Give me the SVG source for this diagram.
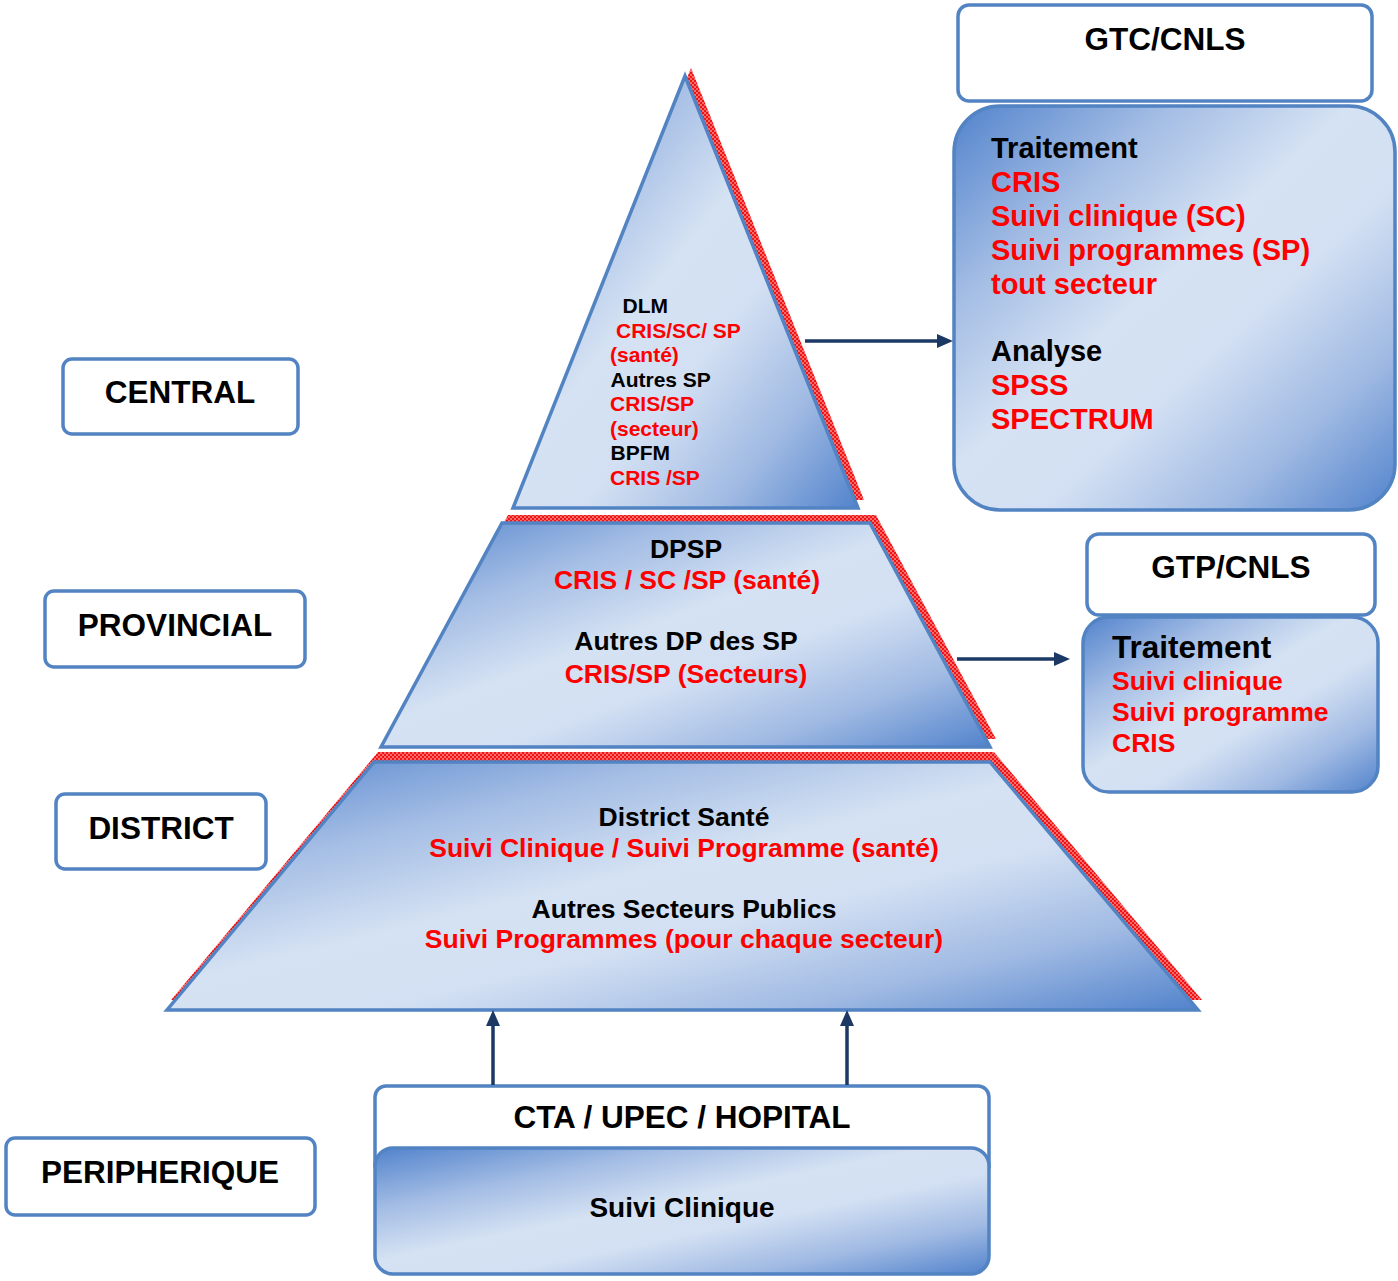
<svg xmlns="http://www.w3.org/2000/svg" width="1398" height="1281" viewBox="0 0 1398 1281">
  <defs>
    <!-- diagonal blue shading used by the pyramid and the info panels -->
    <linearGradient id="blueShade" x1="0" y1="0" x2="1" y2="1">
      <stop offset="0" stop-color="#5283cc"/>
      <stop offset="0.25" stop-color="#a5bee5"/>
      <stop offset="0.45" stop-color="#d5e2f3"/>
      <stop offset="0.6" stop-color="#d3e0f3"/>
      <stop offset="0.8" stop-color="#a0bae3"/>
      <stop offset="1" stop-color="#5283cc"/>
    </linearGradient>
    <!-- fine red dither for the layer shadows -->
    <pattern id="redDither" width="4" height="4" patternUnits="userSpaceOnUse">
      <rect width="4" height="4" fill="#ff6a6a"/>
      <rect width="2" height="2" fill="#ee1414"/>
      <rect x="2" y="2" width="2" height="2" fill="#ee1414"/>
    </pattern>
    <marker id="head" viewBox="0 0 16 14" refX="6" refY="7" markerWidth="16" markerHeight="14" markerUnits="userSpaceOnUse" orient="auto">
      <path d="M0,0 L16,7 L0,14 z" fill="#1b3964"/>
    </marker>
  </defs>
  <style>
    text { font-family: "Liberation Sans", Arial, sans-serif; font-weight: bold; }
    .blk { fill: #000000; }
    .red { fill: #ff0000; }
    .frame { fill: #ffffff; stroke: #5283c2; stroke-width: 3.5; }
    .panel { fill: url(#blueShade); stroke: #5283c2; stroke-width: 3.5; }
    .layer { fill: url(#blueShade); stroke: #5283c2; stroke-width: 3.5; stroke-linejoin: miter; }
    .shadow { fill: url(#redDither); stroke: none; }
    .link { stroke: #1b3964; stroke-width: 3.5; fill: none; marker-end: url(#head); }
    .lvl { font-size: 31.5px; text-anchor: middle; }
    .mid { text-anchor: middle; }
  </style>

  <rect width="1398" height="1281" fill="#ffffff"/>

  <!-- level labels on the left -->
  <g id="lbl-central">
    <rect class="frame" x="63" y="359" width="235" height="75" rx="9"/>
    <text class="lvl blk" x="180" y="403">CENTRAL</text>
  </g>
  <g id="lbl-provincial">
    <rect class="frame" x="45" y="591" width="260" height="76" rx="9"/>
    <text class="lvl blk" x="175" y="636">PROVINCIAL</text>
  </g>
  <g id="lbl-district">
    <rect class="frame" x="56" y="794" width="210" height="75" rx="9"/>
    <text class="lvl blk" x="161" y="839">DISTRICT</text>
  </g>
  <g id="lbl-peripherique">
    <rect class="frame" x="6" y="1138" width="309" height="77" rx="9"/>
    <text class="lvl blk" x="160" y="1183">PERIPHERIQUE</text>
  </g>

  <!-- pyramid: central level -->
  <g id="pyr-central">
    <polygon class="shadow" points="685,76 858,508 513,508" transform="translate(6,-8)"/>
    <polygon class="layer" points="685,76 858,508 513,508"/>
    <g font-size="21">
      <text class="blk" x="622.5" y="313">DLM</text>
      <text class="red" x="616" y="338">CRIS/SC/ SP</text>
      <text class="red" x="610" y="362">(santé)</text>
      <text class="blk" x="610.5" y="387">Autres SP</text>
      <text class="red" x="610" y="411">CRIS/SP</text>
      <text class="red" x="610" y="436">(secteur)</text>
      <text class="blk" x="610.5" y="460">BPFM</text>
      <text class="red" x="610" y="485">CRIS /SP</text>
    </g>
  </g>

  <!-- pyramid: provincial level -->
  <g id="pyr-provincial">
    <polygon class="shadow" points="502,523 870,523 990,747 381,747" transform="translate(6,-8)"/>
    <polygon class="layer" points="502,523 870,523 990,747 381,747"/>
    <g font-size="26.5">
      <text class="blk mid" x="686" y="558">DPSP</text>
      <text class="red mid" x="687" y="589">CRIS / SC /SP (santé)</text>
      <text class="blk mid" x="686" y="650">Autres DP des SP</text>
      <text class="red mid" x="686" y="683">CRIS/SP (Secteurs)</text>
    </g>
  </g>

  <!-- pyramid: district level -->
  <g id="pyr-district">
    <polygon class="shadow" points="374,762 990,762 1198,1010 167,1010" transform="translate(4,-10)"/>
    <polygon class="layer" points="374,762 990,762 1198,1010 167,1010"/>
    <g font-size="26.5">
      <text class="blk mid" x="684" y="826">District Santé</text>
      <text class="red mid" x="684" y="857">Suivi Clinique / Suivi Programme (santé)</text>
      <text class="blk mid" x="684" y="918">Autres Secteurs Publics</text>
      <text class="red mid" x="684" y="948">Suivi Programmes (pour chaque secteur)</text>
    </g>
  </g>

  <!-- central coordination panel -->
  <g id="gtc">
    <rect class="frame" x="958" y="5" width="414" height="96" rx="11"/>
    <text class="blk mid" x="1165" y="50" font-size="31.5">GTC/CNLS</text>
    <rect class="panel" x="954" y="106" width="441" height="404" rx="46"/>
    <g font-size="29">
      <text class="blk" x="991" y="158">Traitement</text>
      <text class="red" x="991" y="192">CRIS</text>
      <text class="red" x="991" y="226">Suivi clinique (SC)</text>
      <text class="red" x="991" y="260">Suivi programmes (SP)</text>
      <text class="red" x="991" y="294">tout secteur</text>
      <text class="blk" x="991" y="361">Analyse</text>
      <text class="red" x="991" y="395">SPSS</text>
      <text class="red" x="991" y="429">SPECTRUM</text>
    </g>
  </g>

  <!-- provincial coordination panel -->
  <g id="gtp">
    <rect class="frame" x="1087" y="534" width="288" height="81" rx="12"/>
    <text class="blk mid" x="1231" y="578" font-size="31.5">GTP/CNLS</text>
    <rect class="panel" x="1083" y="617" width="295" height="175" rx="26"/>
    <text class="blk" x="1112" y="658" font-size="31.5">Traitement</text>
    <g font-size="26.5">
      <text class="red" x="1112" y="690">Suivi clinique</text>
      <text class="red" x="1112" y="721">Suivi programme</text>
      <text class="red" x="1112" y="752">CRIS</text>
    </g>
  </g>

  <!-- peripheral facilities -->
  <g id="cta">
    <rect class="frame" x="375" y="1086" width="614" height="90" rx="11"/>
    <text class="blk mid" x="682" y="1128" font-size="31.5">CTA / UPEC / HOPITAL</text>
    <rect class="panel" x="375" y="1148" width="614" height="126" rx="18"/>
    <text class="blk mid" x="682" y="1217" font-size="28">Suivi Clinique</text>
  </g>

  <!-- connectors -->
  <g id="connectors">
    <line class="link" x1="805" y1="341" x2="943" y2="341"/>
    <line class="link" x1="957" y1="659" x2="1060" y2="659"/>
    <line class="link" x1="493" y1="1085" x2="493" y2="1020"/>
    <line class="link" x1="847" y1="1085" x2="847" y2="1020"/>
  </g>
</svg>
